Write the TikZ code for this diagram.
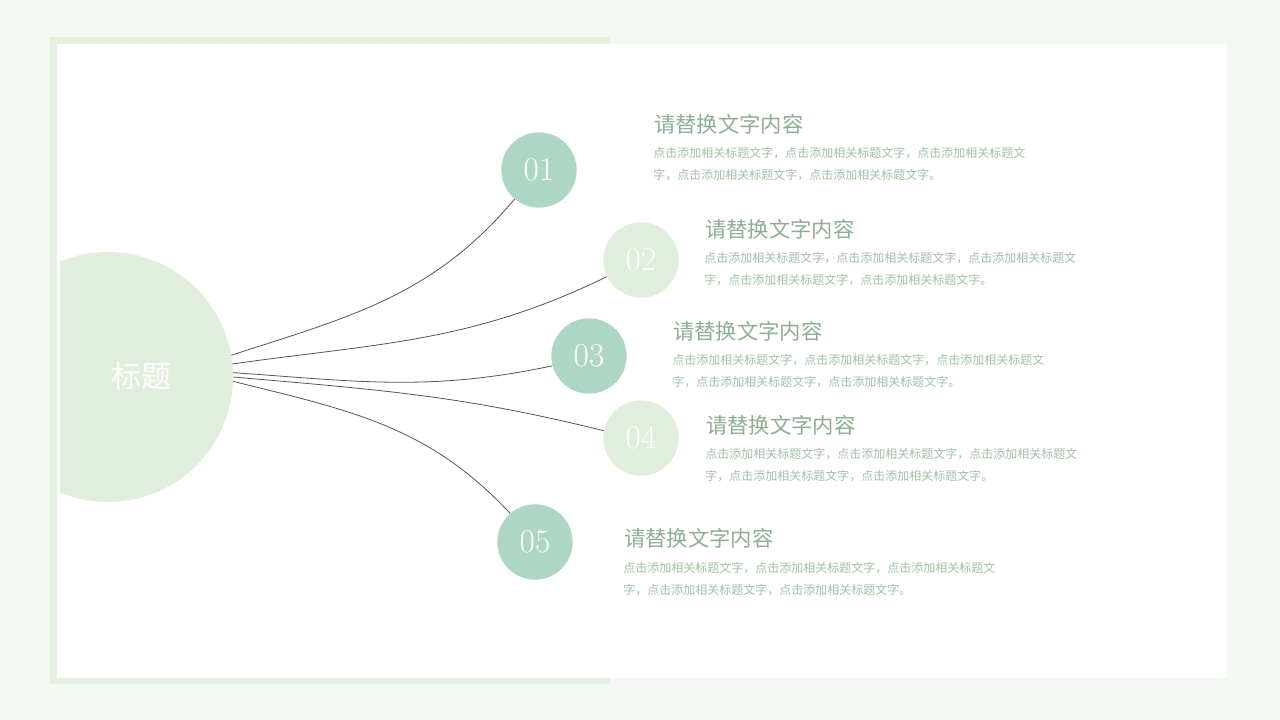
\documentclass[tikz,border=0pt]{standalone}
\usepackage{fontspec}
\newfontfamily\cjk{Noto Sans CJK SC}
\definecolor{bgpale}{HTML}{F3F8F2}
\definecolor{framegreen}{HTML}{E6F0E1}
\definecolor{palegreen}{HTML}{E2EEDD}
\definecolor{mint}{HTML}{AED6C4}
\definecolor{titlecol}{HTML}{8DAE95}
\definecolor{bodycol}{HTML}{A3BFA7}
\definecolor{linecol}{HTML}{555555}
\tikzset{
  smallcirc/.style={circle, minimum size=56.5pt, inner sep=0pt, text=white, font=\fontsize{25}{25}\selectfont},
  mintcirc/.style={smallcirc, fill=mint},
  palecirc/.style={smallcirc, fill=palegreen},
  titletext/.style={anchor=west, inner sep=0pt, text=titlecol, font=\cjk\fontsize{16}{16}\selectfont},
  bodytext/.style={anchor=west, inner sep=0pt, text=bodycol, font=\cjk\fontsize{9}{9}\selectfont},
  conn/.style={draw=linecol, line width=0.6pt}
}
\begin{document}
\begin{tikzpicture}[x=0.75pt,y=-0.75pt]
\useasboundingbox (0,0) rectangle (1280,720);
\fill[bgpale] (0,0) rectangle (1280,720);
\fill[framegreen] (50,37) rectangle (610,684);
\fill[white] (57,44) rectangle (1227,678);

\begin{scope}
\clip (60,0) rectangle (1280,720);
\node[circle, fill=palegreen, minimum size=187.5pt, inner sep=0pt] (hub) at (108,377) {};
\end{scope}
\node[inner sep=0pt, text=white, font=\cjk\fontsize{22.5}{22.5}\selectfont] (hubtext) at (141,376) {标题};

\node[mintcirc] (n1) at (539,170) {01};
\node[palecirc] (n2) at (641,260) {02};
\node[mintcirc] (n3) at (589,356) {03};
\node[palecirc] (n4) at (641,438) {04};
\node[mintcirc] (n5) at (535,542) {05};

\draw[conn] (hub.10) to[out=18, in=230] (n1.230);
\draw[conn] (hub.6.4) to[out=8, in=206] (n2.206);
\draw[conn] (hub.2.3) to[out=-4, in=192] (n3.195);
\draw[conn] (hub.0) to[out=-5, in=166] (n4.169);
\draw[conn] (hub.-2.8) to[out=-14, in=133] (n5.131);

\def\lineA{点击添加相关标题文字，点击添加相关标题文字，点击添加相关标题文}
\def\lineB{字，点击添加相关标题文字，点击添加相关标题文字。}

\node[titletext] (t1) at (654,124) {请替换文字内容};
\node[bodytext] (b1a) at (653,153.5) {\lineA};
\node[bodytext] (b1b) at (653,175.5) {\lineB};

\node[titletext] (t2) at (705,229) {请替换文字内容};
\node[bodytext] (b2a) at (704,258.5) {\lineA};
\node[bodytext] (b2b) at (704,280.5) {\lineB};

\node[titletext] (t3) at (673,331) {请替换文字内容};
\node[bodytext] (b3a) at (672,360.5) {\lineA};
\node[bodytext] (b3b) at (672,382.5) {\lineB};

\node[titletext] (t4) at (706,425) {请替换文字内容};
\node[bodytext] (b4a) at (705,454.5) {\lineA};
\node[bodytext] (b4b) at (705,476.5) {\lineB};

\node[titletext] (t5) at (624,538) {请替换文字内容};
\node[bodytext] (b5a) at (623,568) {\lineA};
\node[bodytext] (b5b) at (623,590) {\lineB};
\end{tikzpicture}
\end{document}
